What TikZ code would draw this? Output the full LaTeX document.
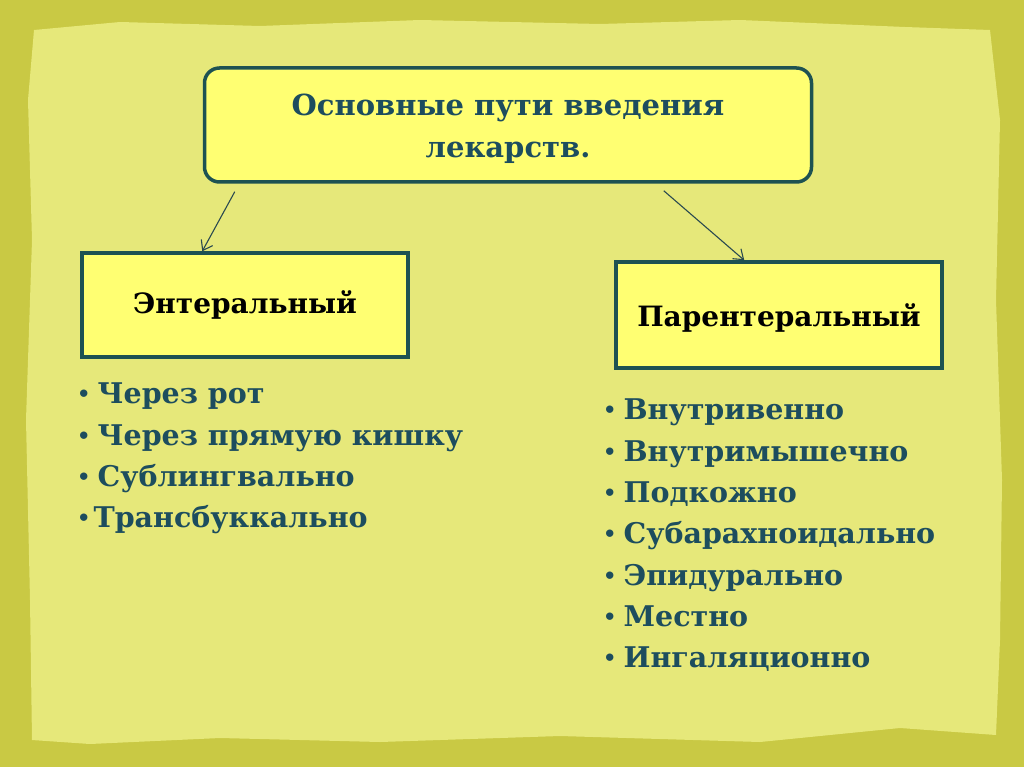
\documentclass[tikz,border=0pt]{standalone}
\usepackage{fontspec}
\setmainfont{DejaVu Serif}
\usetikzlibrary{positioning,calc,arrows.meta}
\definecolor{outerbg}{HTML}{C9C944}
\definecolor{paper}{HTML}{E6E87A}
\definecolor{boxfill}{HTML}{FFFF72}
\definecolor{boxline}{HTML}{1E5252}
\definecolor{tealtext}{HTML}{1D4D5E}
\definecolor{arrline}{HTML}{2B4A50}
\newcommand{\bul}{\raisebox{2pt}{\fontsize{21}{0}\selectfont•}}
\tikzset{
  mainbox/.style={rectangle,draw=boxline,fill=boxfill,line width=3.5pt,
    minimum width=326pt,minimum height=104pt,font=\fontsize{28}{34}\selectfont\bfseries},
  arr/.style={-{Straight Barb[length=9pt,width=13pt]},draw=arrline,line width=1.1pt},
  listtext/.style={align=left,anchor=north west,text=tealtext,inner sep=0pt,
    font=\fontsize{28.5}{41.3}\selectfont\bfseries}
}
\begin{document}
\begin{tikzpicture}[x=1pt,y=-1pt]
	\useasboundingbox (0,0) rectangle (1024,767);
	% background and paper
	\fill[outerbg] (0,0) rectangle (1024,767);
	\fill[paper] (34,30) -- (120,22) -- (260,26) -- (420,20) -- (600,24) -- (740,20)
		-- (905,27) -- (990,30) -- (1000,120) -- (996,300) -- (1002,480) -- (1000,640)
		-- (996,735) -- (900,728) -- (760,742) -- (560,736) -- (380,742) -- (220,738)
		-- (90,744) -- (32,740) -- (30,600) -- (26,420) -- (32,240) -- (28,100) -- cycle;
	% boxes
	\node[rectangle,rounded corners=15pt,draw=boxline,fill=boxfill,line width=3.5pt,
		minimum width=607pt,minimum height=114pt,align=center,text=tealtext,
		font=\fontsize{29}{42}\selectfont\bfseries]
		(title) at (508,125) {\rule{0pt}{30pt}Основные пути введения\\лекарств.};
	\node[mainbox] (enteral) at (245,305) {Энтеральный};
	\node[mainbox,minimum height=106pt] (parenteral) at (779,315) {\rule{0pt}{28pt}Парентеральный};
	% arrows
	\draw[arr] ($(title.south west)+(32,8)$) -- ($(enteral.north west)+(122,0)$);
	\draw[arr] ($(title.south west)+(461,7)$) -- ($(parenteral.north west)+(130,0)$);
	% lists
	\node[listtext] (entlist) at (77,383)
		{\bul\hspace{7pt}Через рот\\\bul\hspace{7pt}Через прямую кишку\\\bul\hspace{7pt}Сублингвально\\\bul\hspace{3pt}Трансбуккально};
	\node[listtext] (parlist) at (603,399)
		{\bul\hspace{7pt}Внутривенно\\\bul\hspace{7pt}Внутримышечно\\\bul\hspace{7pt}Подкожно\\\bul\hspace{7pt}Субарахноидально\\\bul\hspace{7pt}Эпидурально\\\bul\hspace{7pt}Местно\\\bul\hspace{7pt}Ингаляционно};
\end{tikzpicture}
\end{document}
